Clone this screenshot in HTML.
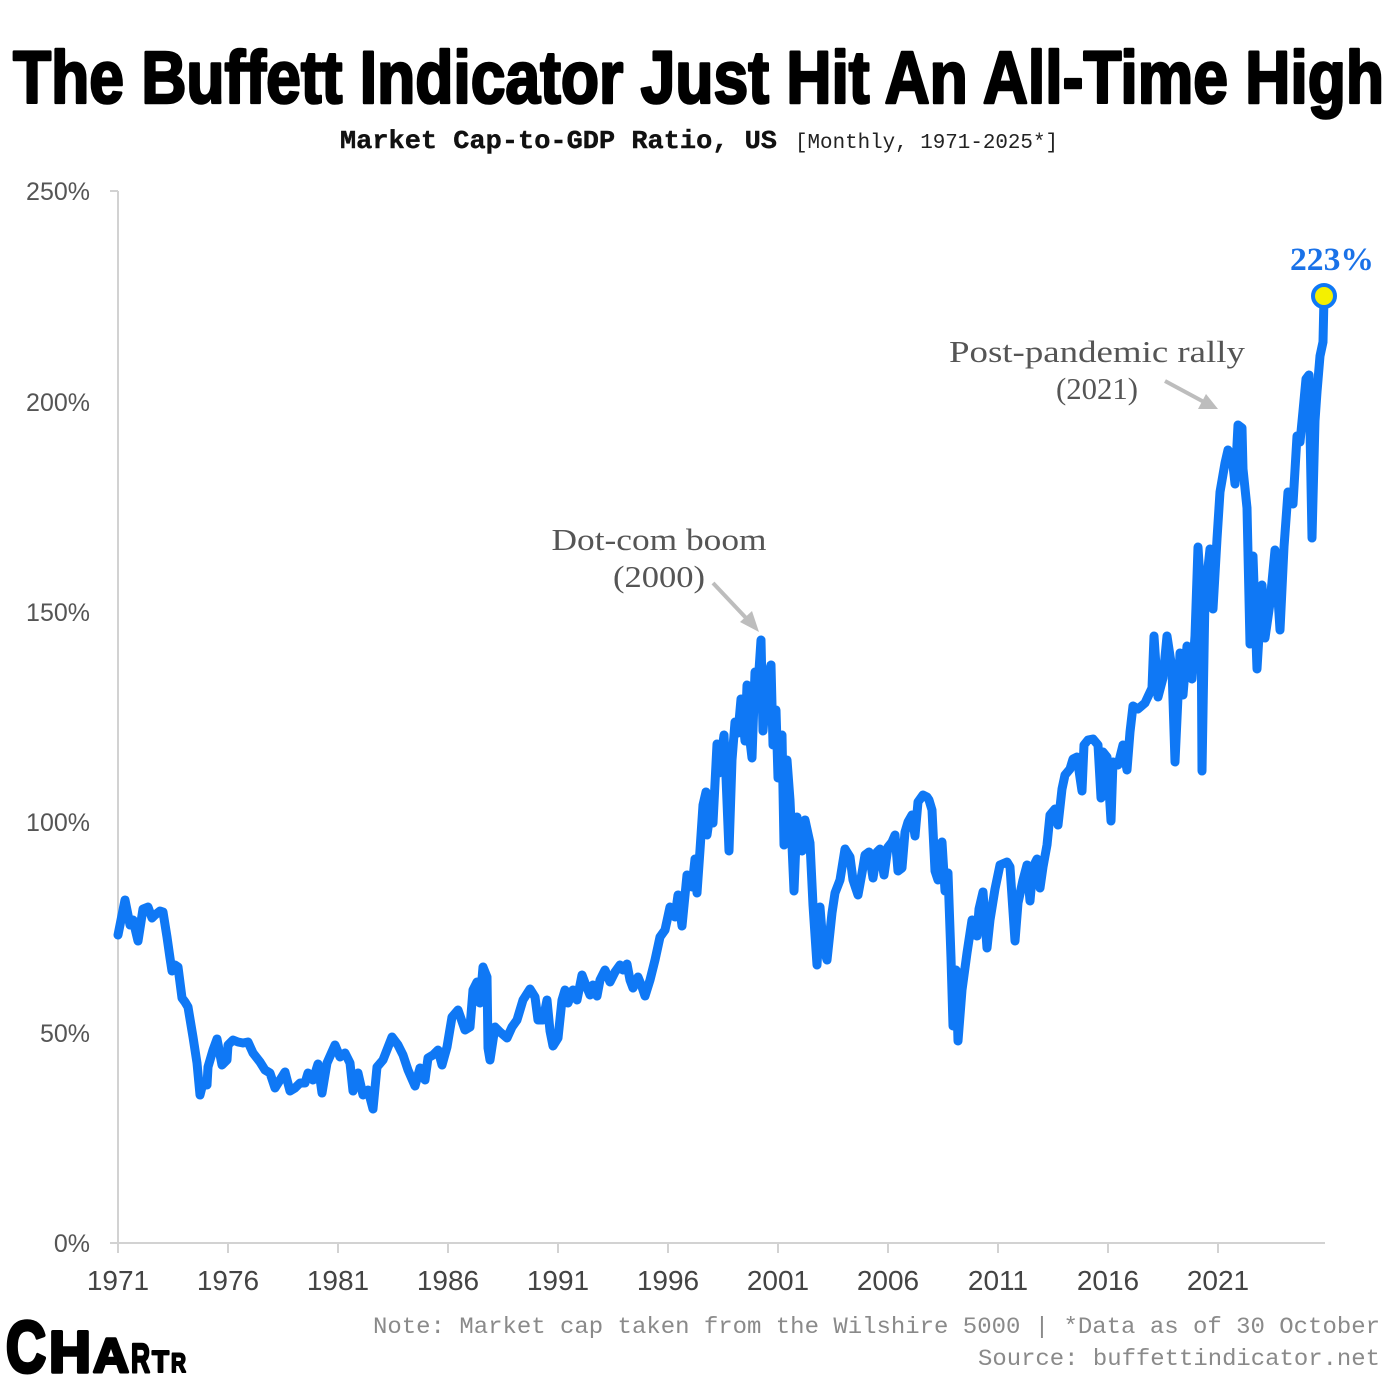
<!DOCTYPE html>
<html>
<head>
<meta charset="utf-8">
<style>
html,body{margin:0;padding:0;background:#fff;}
svg{display:block;}
</style>
</head>
<body>
<svg width="1400" height="1400" viewBox="0 0 1400 1400" xmlns="http://www.w3.org/2000/svg">
<rect width="1400" height="1400" fill="#fff"/>

<!-- Title -->
<text x="13" y="103" font-family="'Liberation Sans Narrow','Liberation Sans',sans-serif" font-weight="900" font-size="74" textLength="1371" lengthAdjust="spacingAndGlyphs" fill="#000" stroke="#000" stroke-width="2.6" stroke-linejoin="round">The Buffett Indicator Just Hit An All-Time High</text>

<!-- Subtitle -->
<text x="340" y="148" font-family="'Liberation Mono',monospace" font-weight="bold" font-size="26" textLength="437" lengthAdjust="spacingAndGlyphs" fill="#111" stroke="#111" stroke-width="0.4">Market Cap-to-GDP Ratio, US</text>
<text x="795" y="148" font-family="'Liberation Mono',monospace" font-size="21" textLength="263" lengthAdjust="spacingAndGlyphs" fill="#222">[Monthly, 1971-2025*]</text>

<!-- Axes -->
<g stroke="#d2d2d2" stroke-width="2" fill="none">
<line x1="118" y1="191" x2="118" y2="1243"/>
<line x1="110" y1="191" x2="118" y2="191"/>
<line x1="110" y1="1243" x2="1325" y2="1243"/>
<line x1="118" y1="1243" x2="118" y2="1253"/>
<line x1="228" y1="1243" x2="228" y2="1253"/>
<line x1="338" y1="1243" x2="338" y2="1253"/>
<line x1="448" y1="1243" x2="448" y2="1253"/>
<line x1="558" y1="1243" x2="558" y2="1253"/>
<line x1="668" y1="1243" x2="668" y2="1253"/>
<line x1="778" y1="1243" x2="778" y2="1253"/>
<line x1="888" y1="1243" x2="888" y2="1253"/>
<line x1="998" y1="1243" x2="998" y2="1253"/>
<line x1="1108" y1="1243" x2="1108" y2="1253"/>
<line x1="1218" y1="1243" x2="1218" y2="1253"/>
</g>

<!-- Y labels -->
<g font-family="'Liberation Sans',sans-serif" font-size="25" fill="#555" text-anchor="end">
<text x="90" y="200">250%</text>
<text x="90" y="411">200%</text>
<text x="90" y="621">150%</text>
<text x="90" y="831">100%</text>
<text x="90" y="1042">50%</text>
<text x="90" y="1252">0%</text>
</g>

<!-- X labels -->
<g font-family="'Liberation Sans',sans-serif" font-size="28" fill="#444" text-anchor="middle">
<text x="118" y="1290">1971</text>
<text x="228" y="1290">1976</text>
<text x="338" y="1290">1981</text>
<text x="448" y="1290">1986</text>
<text x="558" y="1290">1991</text>
<text x="668" y="1290">1996</text>
<text x="778" y="1290">2001</text>
<text x="888" y="1290">2006</text>
<text x="998" y="1290">2011</text>
<text x="1108" y="1290">2016</text>
<text x="1218" y="1290">2021</text>
</g>

<!-- Data line -->
<polyline fill="none" stroke="#0f78f5" stroke-width="9" stroke-linejoin="round" stroke-linecap="round" points="
118,935 125,900 130,925 133,920 138,941 143,909 148,907 152,918 155,915 160,911 163,912 167,937 170,958 172,971 175,965 178,967 182,998 185,1002 188,1007 193,1037 197,1063 200,1095 203,1083 207,1085 208,1067 213,1050 217,1039 222,1065 227,1060 228,1045 233,1040 238,1042 243,1043 248,1042 253,1053 260,1062 265,1070 270,1073 275,1088 280,1080 285,1072 290,1091 295,1088 300,1083 305,1083 308,1073 313,1080 318,1064 322,1093 327,1063 335,1045 340,1057 345,1053 350,1063 353,1091 358,1073 363,1095 368,1090 373,1109 377,1067 383,1060 392,1037 398,1045 403,1055 408,1070 415,1086 420,1068 425,1080 428,1058 433,1055 438,1050 442,1065 447,1047 452,1017 458,1010 465,1030 470,1027 473,990 477,982 480,1003 483,967 487,977 488,1048 490,1060 495,1027 500,1032 507,1038 512,1027 517,1020 523,1000 530,989 535,997 538,1020 543,1020 547,1000 550,1031 553,1046 558,1038 562,1000 565,990 568,1003 573,990 577,1000 582,975 585,983 590,995 593,985 597,996 600,980 605,970 610,982 615,972 620,965 623,970 627,964 630,980 633,988 638,977 642,987 645,996 650,980 655,960 660,937 665,930 670,907 675,917 678,895 682,926 687,875 692,887 695,859 697,893 700,850 703,805 706,792 707,835 712,799 713,823 717,744 719,773 724,735 726,777 729,851 732,760 735,722 738,733 741,699 745,741 747,685 750,741 752,758 755,672 757,700 761,640 763,731 767,679 771,665 773,745 776,710 778,778 782,735 784,845 787,760 790,800 794,891 797,817 802,851 805,820 810,843 813,905 817,965 820,907 823,945 827,960 832,913 835,893 840,880 845,849 850,857 853,880 858,895 862,873 865,855 869,852 873,878 877,852 880,849 884,875 888,847 892,842 895,835 898,871 902,868 905,832 908,822 912,815 915,836 918,802 923,795 927,797 929,800 932,810 935,871 938,880 942,842 945,891 948,873 951,958 953,1026 956,970 958,1041 962,990 967,953 972,920 977,936 979,909 983,892 987,948 990,920 995,889 1000,865 1007,862 1010,867 1015,941 1018,903 1023,880 1027,865 1030,901 1033,867 1037,859 1040,888 1043,867 1047,845 1050,815 1055,809 1058,825 1062,789 1065,775 1070,769 1073,759 1077,757 1082,791 1084,745 1088,740 1093,739 1098,745 1101,798 1103,752 1107,757 1111,821 1113,762 1118,765 1123,745 1127,770 1130,732 1133,706 1138,709 1145,703 1152,688 1154,636 1158,697 1163,678 1167,636 1172,669 1175,762 1180,653 1183,695 1187,646 1192,679 1195,636 1198,547 1201,597 1202,771 1205,596 1210,549 1213,609 1217,539 1220,492 1225,463 1228,450 1232,456 1235,484 1238,425 1242,428 1243,469 1247,508 1250,644 1253,556 1257,669 1262,585 1265,638 1270,603 1275,550 1280,630 1284,547 1288,492 1293,504 1297,436 1300,442 1303,411 1306,379 1309,375 1312,538 1315,421 1317,392 1320,356 1323,342 1324,297"/>

<!-- End marker -->
<circle cx="1324" cy="296" r="11" fill="#f4f000" stroke="#0f78f5" stroke-width="4"/>
<text x="1332" y="270" font-family="'Liberation Serif',serif" font-weight="bold" font-size="33" fill="#1a72e8" text-anchor="middle" textLength="84" lengthAdjust="spacingAndGlyphs">223%</text>

<!-- Annotations -->
<g font-family="'Liberation Serif',serif" font-size="31" fill="#555" text-anchor="middle">
<text x="659" y="550" textLength="215" lengthAdjust="spacingAndGlyphs">Dot-com boom</text>
<text x="659" y="587" textLength="92" lengthAdjust="spacingAndGlyphs">(2000)</text>
<text x="1097" y="362" textLength="296" lengthAdjust="spacingAndGlyphs">Post-pandemic rally</text>
<text x="1097" y="399" textLength="82" lengthAdjust="spacingAndGlyphs">(2021)</text>
</g>
<g stroke="#bdbdbd" stroke-width="4" fill="#bdbdbd">
<line x1="713" y1="583" x2="747" y2="619"/>
<polygon points="759,632 740,622 752,611" stroke="none"/>
<line x1="1165" y1="381" x2="1204" y2="402"/>
<polygon points="1218,409 1198,409 1206,394" stroke="none"/>
</g>

<!-- Footer -->
<g font-family="'Liberation Mono',monospace" font-size="23" fill="#8a8a8a">
<text x="373" y="1333" textLength="1007" lengthAdjust="spacingAndGlyphs">Note: Market cap taken from the Wilshire 5000 | *Data as of 30 October</text>
<text x="978" y="1365" textLength="402" lengthAdjust="spacingAndGlyphs">Source: buffettindicator.net</text>
</g>

<!-- Logo -->
<g font-family="'Liberation Sans',sans-serif" font-weight="900" fill="#000" stroke="#000" stroke-linejoin="round">
<text x="6" y="1372" font-size="72" stroke-width="4" textLength="40" lengthAdjust="spacingAndGlyphs">C</text>
<text x="49" y="1372" font-size="58" stroke-width="3.5" textLength="42" lengthAdjust="spacingAndGlyphs">H</text>
<text x="93" y="1372" font-size="48" stroke-width="3" textLength="36" lengthAdjust="spacingAndGlyphs">A</text>
<text x="131" y="1372" font-size="41" stroke-width="2.5" textLength="19" lengthAdjust="spacingAndGlyphs">R</text>
<text x="152" y="1372" font-size="31" stroke-width="2" textLength="17" lengthAdjust="spacingAndGlyphs">T</text>
<text x="171" y="1372" font-size="27" stroke-width="2" textLength="15" lengthAdjust="spacingAndGlyphs">R</text>
</g>
</svg>
</body>
</html>
